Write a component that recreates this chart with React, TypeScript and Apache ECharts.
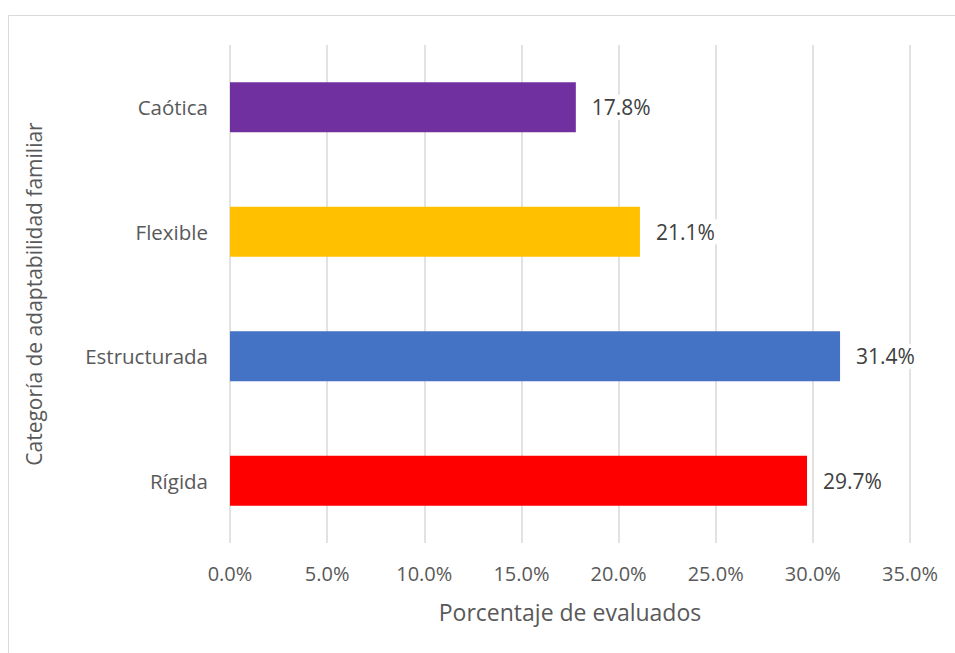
import React, { useEffect, useRef } from "react";
import * as echarts from "echarts";

const categories = ["Rígida", "Estructurada", "Flexible", "Caótica"];
const values = [29.7, 31.4, 21.1, 17.8];
const colors = ["#FF0000", "#4472C4", "#FFC000", "#7030A0"];
const xTicks = [0, 5, 10, 15, 20, 25, 30, 35];

const FONT = "'Open Sans', 'Noto Sans', sans-serif";

export default function App() {
  const ref = useRef<HTMLDivElement>(null);
  useEffect(() => {
    const chart = echarts.init(ref.current!, null, { renderer: "svg" });
    chart.setOption({
      animation: false,
      backgroundColor: "#ffffff",
      graphic: [
        {
          type: "rect",
          shape: { x: 8.5, y: 15.5, width: 1000, height: 1000 },
          style: { fill: "none", stroke: "#d9d9d9", lineWidth: 1 },
          silent: true,
          z: -1,
        },
      ],
      grid: { left: 230, right: 45, top: 45, bottom: 110, containLabel: false },
      xAxis: {
        type: "value",
        min: xTicks[0],
        max: xTicks[xTicks.length - 1],
        interval: 5,
        axisLine: { show: false },
        axisTick: { show: false },
        splitLine: { show: true, lineStyle: { color: "#d9d9d9", width: 1.5 } },
        axisLabel: {
          color: "#595959",
          fontFamily: FONT,
          fontSize: 20,
          margin: 20,
          formatter: (v: number) => v.toFixed(1) + "%",
        },
        name: "Porcentaje de evaluados",
        nameLocation: "middle",
        nameGap: 57,
        nameTextStyle: { color: "#595959", fontFamily: FONT, fontSize: 23 },
      },
      yAxis: {
        type: "category",
        data: categories,
        axisLine: { show: false },
        axisTick: { show: false },
        splitLine: { show: false },
        axisLabel: { color: "#595959", fontFamily: FONT, fontSize: 20.5, margin: 22 },
        name: "Categoría de adaptabilidad familiar",
        nameLocation: "middle",
        nameGap: 186,
        nameRotate: 90,
        nameTextStyle: { color: "#595959", fontFamily: FONT, fontSize: 21 },
      },
      series: [
        {
          type: "bar",
          barWidth: "40%",
          data: values.map((v, i) => ({ value: v, itemStyle: { color: colors[i] } })),
          label: {
            show: true,
            position: "right",
            distance: 10,
            color: "#404040",
            fontFamily: FONT,
            fontSize: 21,
            backgroundColor: "#ffffff",
            padding: [2, 6],
            formatter: (p: any) => p.value.toFixed(1) + "%",
          },
        },
      ],
    });
    return () => chart.dispose();
  }, []);
  return (
    <div
      ref={ref}
      style={{ position: "absolute", left: 0, top: 0, width: 955, height: 653 }}
    />
  );
}
